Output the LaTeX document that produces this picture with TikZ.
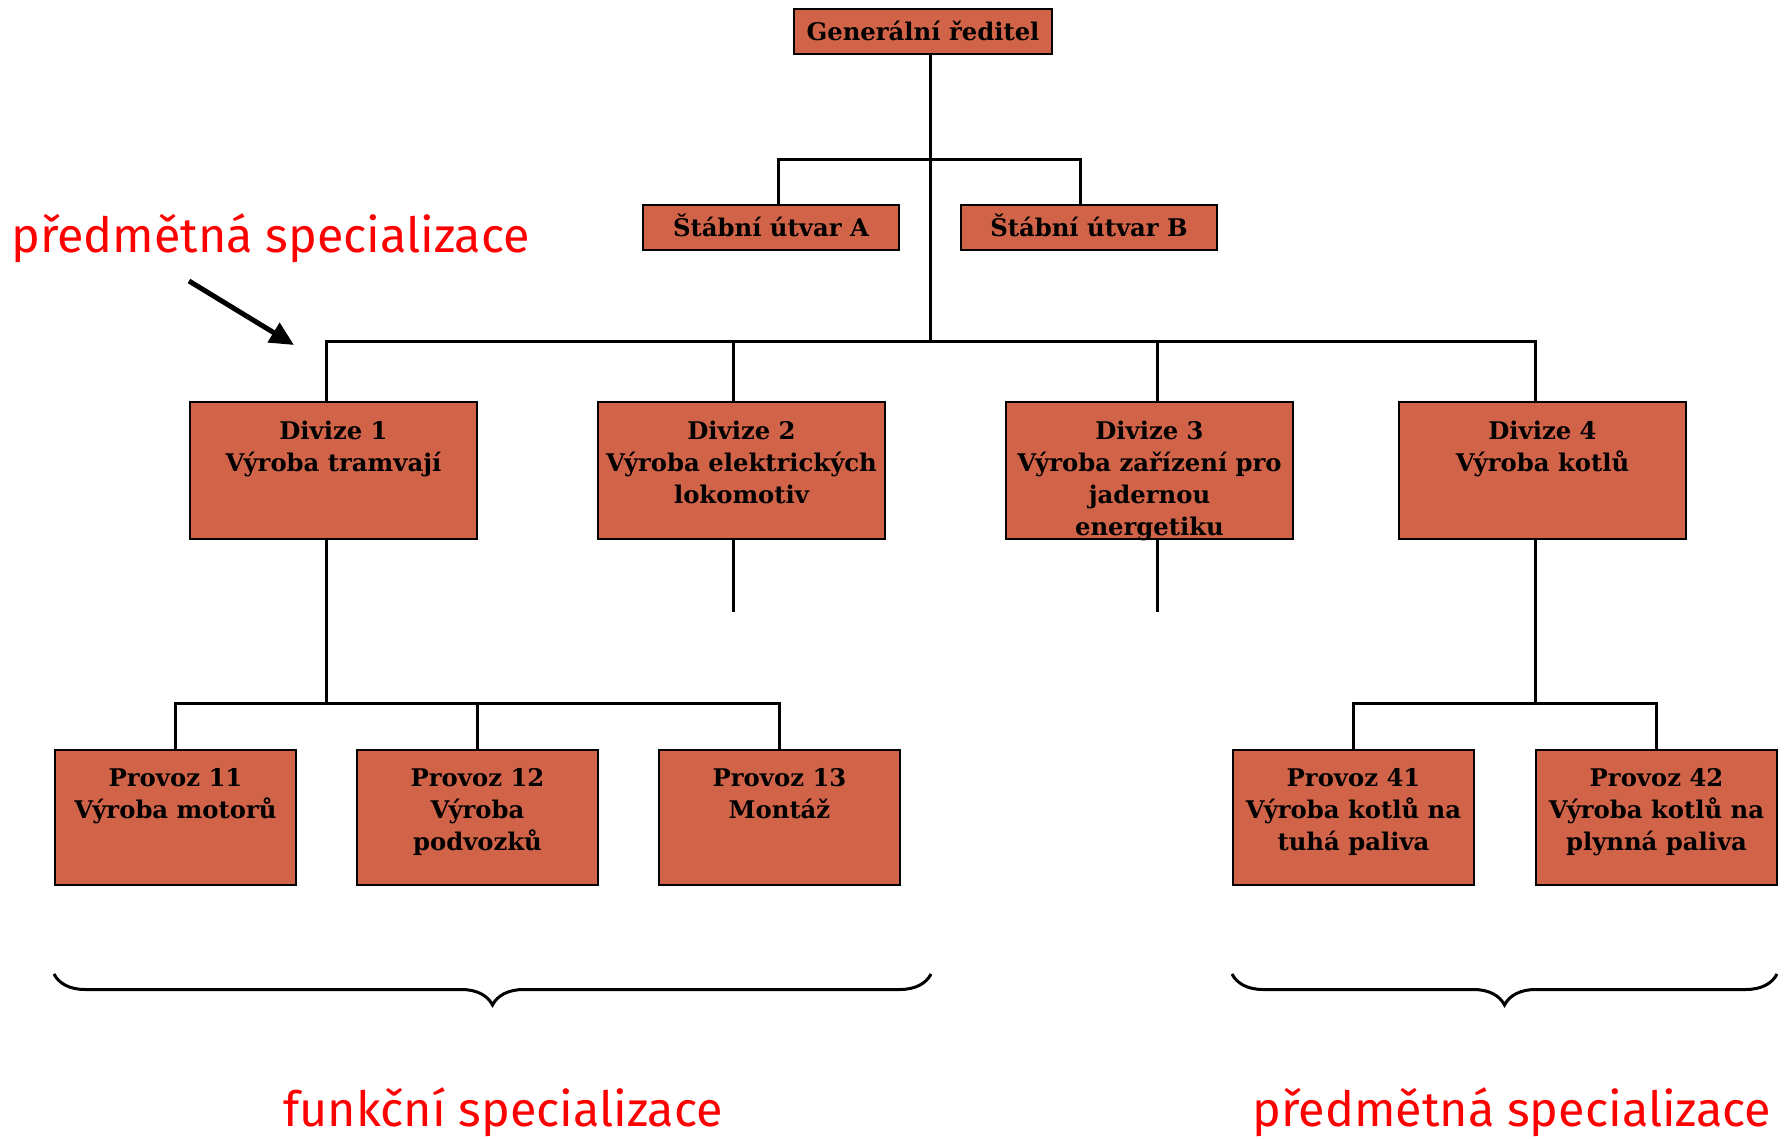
\documentclass[tikz,border=0pt]{standalone}
\usepackage{fontspec}
\setmainfont{DejaVu Serif}
\newfontfamily\notefont{Fira Sans}
\usetikzlibrary{calc,arrows.meta,decorations.pathreplacing}
\definecolor{boxfill}{RGB}{209,99,73}
\definecolor{notered}{RGB}{255,0,0}

% box contents: width, height, first baseline offset, lines
\newcommand\orgtext[4]{\parbox[t][#2][t]{#1}{\centering\rule{0pt}{#3}\ignorespaces#4\par}}

\tikzset{
  orgbox/.style={draw=black, line width=2pt, fill=boxfill, inner sep=0pt,
    font=\bfseries\fontsize{24.3}{32}\selectfont},
  smallbox/.style={orgbox, minimum height=45pt, text height=18pt, text depth=0pt},
  link/.style={line width=3pt, black},
  note/.style={text=notered, inner sep=0pt, font=\notefont\fontsize{48.5}{56}\selectfont},
  bracket/.style={line width=3pt, decorate, decoration={brace, mirror, amplitude=31pt}},
}

\begin{document}
\begin{tikzpicture}[x=1pt, y=-1pt]
\useasboundingbox (0,0) rectangle (1787,1139);
\fill[white] (0,0) rectangle (1787,1139);

% top management and staff units
\node[smallbox, minimum width=258pt] (gen) at (923,31.5) {Generální ředitel};
\node[smallbox, minimum width=256pt] (sa) at (771,228) {Štábní útvar A};
\node[smallbox, minimum width=256pt] (sb) at (1089,228) {Štábní útvar B};

% divisions
\node[orgbox, anchor=north west] (d1) at (189,401) {\orgtext{287pt}{137pt}{37pt}{Divize 1\\Výroba tramvají}};
\node[orgbox, anchor=north west] (d2) at (597,401) {\orgtext{287pt}{137pt}{37pt}{Divize 2\\Výroba elektrických\\lokomotiv}};
\node[orgbox, anchor=north west] (d3) at (1005,401) {\orgtext{287pt}{137pt}{37pt}{Divize 3\\Výroba zařízení pro\\jadernou\\energetiku}};
\node[orgbox, anchor=north west] (d4) at (1398,401) {\orgtext{287pt}{137pt}{37pt}{Divize 4\\Výroba kotlů}};

% plants
\node[orgbox, anchor=north west] (p11) at (54,749) {\orgtext{241pt}{135pt}{36pt}{Provoz 11\\Výroba motorů}};
\node[orgbox, anchor=north west] (p12) at (356,749) {\orgtext{241pt}{135pt}{36pt}{Provoz 12\\Výroba\\podvozků}};
\node[orgbox, anchor=north west] (p13) at (658,749) {\orgtext{241pt}{135pt}{36pt}{Provoz 13\\Montáž}};
\node[orgbox, anchor=north west] (p41) at (1232,749) {\orgtext{241pt}{135pt}{36pt}{Provoz 41\\Výroba kotlů na\\tuhá paliva}};
\node[orgbox, anchor=north west] (p42) at (1535,749) {\orgtext{241pt}{135pt}{36pt}{Provoz 42\\Výroba kotlů na\\plynná paliva}};

% bus junctions
\coordinate (trunk) at (930,0);
\coordinate (staffbus) at (0,160);
\coordinate (divbus) at (0,341);
\coordinate (plantbus) at (0,703);
\coordinate (stub) at (0,612);
\coordinate (xa) at (778,0);
\coordinate (xb) at (1080,0);
\coordinate (x1) at (326,0);
\coordinate (x2) at (733,0);
\coordinate (x3) at (1157,0);
\coordinate (x4) at (1535,0);

% connectors
\draw[link] (gen.south -| trunk) -- (divbus -| trunk);
\draw[link] (sa.north -| xa) -- (staffbus -| xa) -- (staffbus -| xb) -- (sb.north -| xb);
\draw[link] (d1.north -| x1) -- (divbus -| x1) -- (divbus -| x4) -- (d4.north -| x4);
\draw[link] (divbus -| x2) -- (d2.north -| x2);
\draw[link] (divbus -| x3) -- (d3.north -| x3);
\draw[link] (d2.south -| x2) -- (stub -| x2);
\draw[link] (d3.south -| x3) -- (stub -| x3);

\draw[link] (d1.south -| x1) -- (plantbus -| x1);
\draw[link] (p11.north) -- (plantbus -| p11.north) -- (plantbus -| p13.north) -- (p13.north);
\draw[link] (plantbus -| p12.north) -- (p12.north);
\draw[link] (d4.south -| x4) -- (plantbus -| x4);
\draw[link] (p41.north) -- (plantbus -| p41.north) -- (plantbus -| p42.north) -- (p42.north);

% annotations
\node[note, anchor=base west] (nt) at (11,253) {předmětná specializace};
\coordinate (arrfrom) at (189,281);
\coordinate (arrto) at (294,345);
\draw[line width=5pt, -{Triangle[length=24pt,width=22pt]}] (arrfrom) -- (arrto);

\draw[bracket] (54,974) -- (931,974);
\draw[bracket] (1232,974) -- (1777,974);
\node[note, anchor=base] (nf) at (503,1126) {funkční specializace};
\node[note, anchor=base] (np) at (1512,1126) {předmětná specializace};
\end{tikzpicture}
\end{document}
